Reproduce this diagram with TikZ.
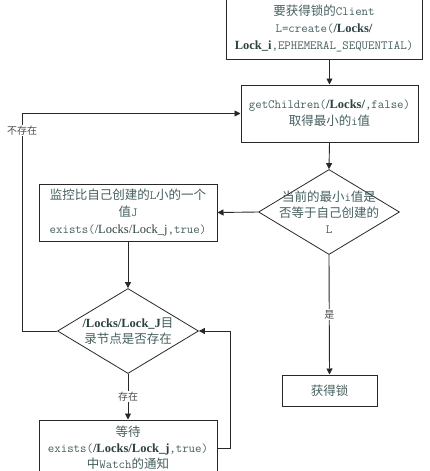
\documentclass[tikz,border=0pt]{standalone}
\usepackage{fontspec}
\setmainfont{Liberation Serif}
\newfontfamily\cjk{Noto Sans CJK SC}
\usetikzlibrary{shapes.geometric,arrows.meta}
\definecolor{txt}{RGB}{70,95,95}
\definecolor{dk}{RGB}{45,65,65}
\definecolor{ln}{RGB}{40,40,40}
\newcommand{\zh}[1]{{\cjk #1}}
\newcommand{\mt}[1]{{\ttfamily #1}}
\newcommand{\bd}[1]{{\color{dk}\bfseries #1}}
\newcommand{\rg}[1]{{\color{dk}#1}}
\begin{document}
\begin{tikzpicture}[x=1pt,y=-1pt,
  box/.style={draw=ln,line width=1pt,inner sep=0pt,align=center,text=txt,
    font=\fontsize{12.5}{17}\selectfont},
  dia/.style={draw=ln,line width=0.8pt,diamond,inner sep=0pt,minimum width=141pt,minimum height=85pt},
  dtext/.style={align=center,text=txt,font=\fontsize{12.5}{16}\selectfont,inner sep=0pt},
  conn/.style={draw=ln,line width=0.9pt,-{Triangle[width=6pt,length=6pt]}},
  lbl/.style={fill=white,inner sep=1pt,text=black!70,font=\fontsize{10}{12}\selectfont\cjk}]
\useasboundingbox (0,0) rectangle (430,471);
\fill[white] (0,0) rectangle (430,471);
\node[box,minimum width=196pt,minimum height=62pt] (b1) at (324,28)
  {\zh{要获得锁的}\mt{Client}\\\mt{L=create(}\bd{/Locks/}\\\bd{Lock\_i}\mt{,EPHEMERAL\_SEQUENTIAL)}};
\node[box,minimum width=177pt,minimum height=57pt] (b2) at (329.5,113.5)
  {\mt{getChildren(}\bd{/Locks/}\mt{,false)}\\\zh{取得最小的}\mt{i}\zh{值}};
\node[dia] (d1) at (329,212) {};
\node[dtext] (t1) at (d1.center) {\zh{当前的最小}\mt{i}\zh{值是}\\\zh{否等于自己创建的}\\\mt{L}};
\node[box,minimum width=178pt,minimum height=57pt] (b3) at (128,212.5)
  {\zh{监控比自己创建的}\mt{L}\zh{小的一个}\\\zh{值}\mt{J}\\\mt{exists(}\rg{/Locks/Lock\_j}\mt{,true)}};
\node[dia] (d2) at (128,331) {};
\node[dtext] (t2) at (d2.center) {\bd{/Locks/Lock\_J}\zh{目}\\\zh{录节点是否存在}};
\node[box,minimum width=178pt,minimum height=55pt,font=\fontsize{12.5}{16}\selectfont] (b4) at (128,447.5)
  {\zh{等待}\\\mt{exists(}\bd{/Locks/Lock\_j}\mt{,true)}\\\zh{中}\mt{Watch}\zh{的通知}};
\node[box,minimum width=95pt,minimum height=31pt] (b5) at (329.5,390.5) {\zh{获得锁}};
\coordinate (cl) at (22,331);
\coordinate (cr) at (230,448);
\draw[conn] (b2.north |- b1.south) -- (b2.north);
\draw[conn] (b2.south) -- (d1.north);
\draw[conn] (d1.west) -- (b3.east);
\draw[conn] (b3.south) -- (d2.north);
\draw[conn] (d2.west) -- (cl) |- (b2.west) node[lbl,pos=0.46] {不存在};
\draw[conn] (d2.south) -- (b4.north) node[lbl,midway] {存在};
\draw[conn] (b4.east |- cr) -- (cr) |- (d2.east);
\draw[conn] (d1.south) -- (b5.north) node[lbl,pos=0.5] {是};
\end{tikzpicture}
\end{document}
